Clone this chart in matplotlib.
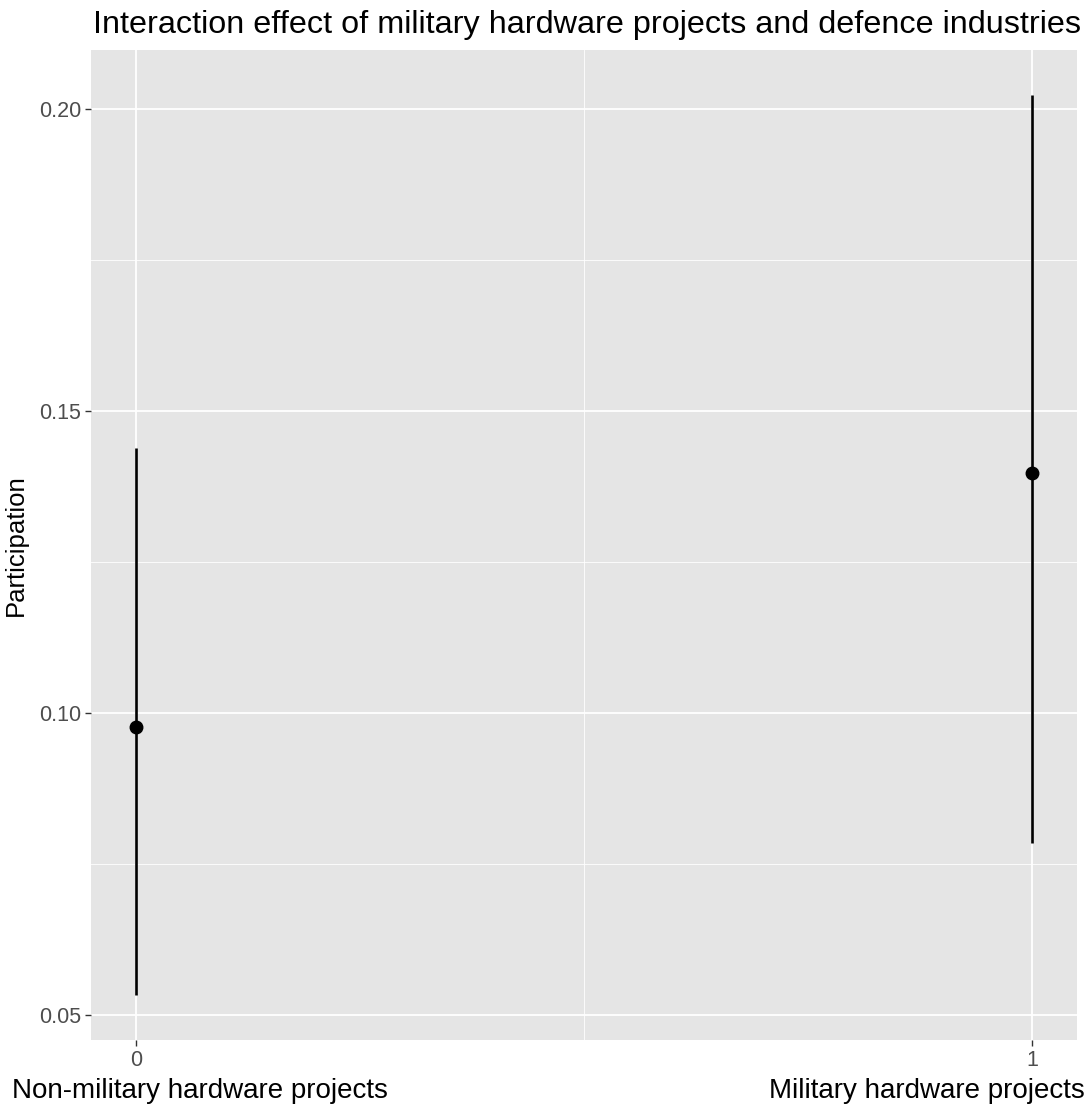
import numpy as np
import matplotlib
matplotlib.use("Agg")
import matplotlib.pyplot as plt
from matplotlib.ticker import MultipleLocator

plt.rcParams["font.family"] = ["Liberation Sans", "DejaVu Sans"]

# data
groups = [0, 1]
estimate = [0.0976, 0.1397]
lower = [0.0533, 0.0785]
upper = [0.1439, 0.2023]
y_ticks = [0.05, 0.10, 0.15, 0.20]
y_tick_labels = ["0.05", "0.10", "0.15", "0.20"]
x_tick_labels = ["0", "1"]
title = "Interaction effect of military hardware projects and defence industries"
left_label = "Non-military hardware projects"
right_label = "Military hardware projects"

fig = plt.figure(figsize=(10.91, 11.08), dpi=100)
ax = fig.add_axes([91 / 1091, 1 - 1040 / 1108, (1077 - 91) / 1091, (1040 - 50) / 1108])
ax.set_facecolor("#e5e5e5")
for s in ax.spines.values():
    s.set_visible(False)

# ggplot-like gridlines
ax.set_axisbelow(True)
ax.yaxis.set_minor_locator(MultipleLocator(0.025))
ax.xaxis.set_minor_locator(MultipleLocator(0.5))
ax.grid(which="major", color="white", linewidth=1.3)
ax.grid(which="minor", color="white", linewidth=0.6)

ax.vlines(groups, lower, upper, color="black", linewidth=1.9)
ax.plot(groups, estimate, "o", color="black", markersize=9, zorder=3)

span = max(upper) - min(lower)
ax.set_ylim(min(lower) - 0.05 * span, max(upper) + 0.05 * span)
ax.set_xlim(-0.05, 1.05)
ax.set_yticks(y_ticks)
ax.set_yticklabels(y_tick_labels)
ax.set_xticks(groups)
ax.set_xticklabels(x_tick_labels)
ax.tick_params(which="major", length=4, width=1, color="#333333",
               labelsize=15.5, labelcolor="#4d4d4d", pad=3)
ax.tick_params(which="minor", length=0)

ax.set_ylabel("Participation", fontsize=18.5, labelpad=8)
fig.text(12 / 1091, 1 - 1098 / 1108, left_label, fontsize=20, ha="left", va="baseline")
fig.text(1085 / 1091, 1 - 1098 / 1108, right_label, fontsize=20, ha="right", va="baseline")
fig.text(93 / 1091, 1 - 33 / 1108, title, fontsize=23.3, ha="left", va="baseline")

fig.savefig("out.png", dpi=100)
